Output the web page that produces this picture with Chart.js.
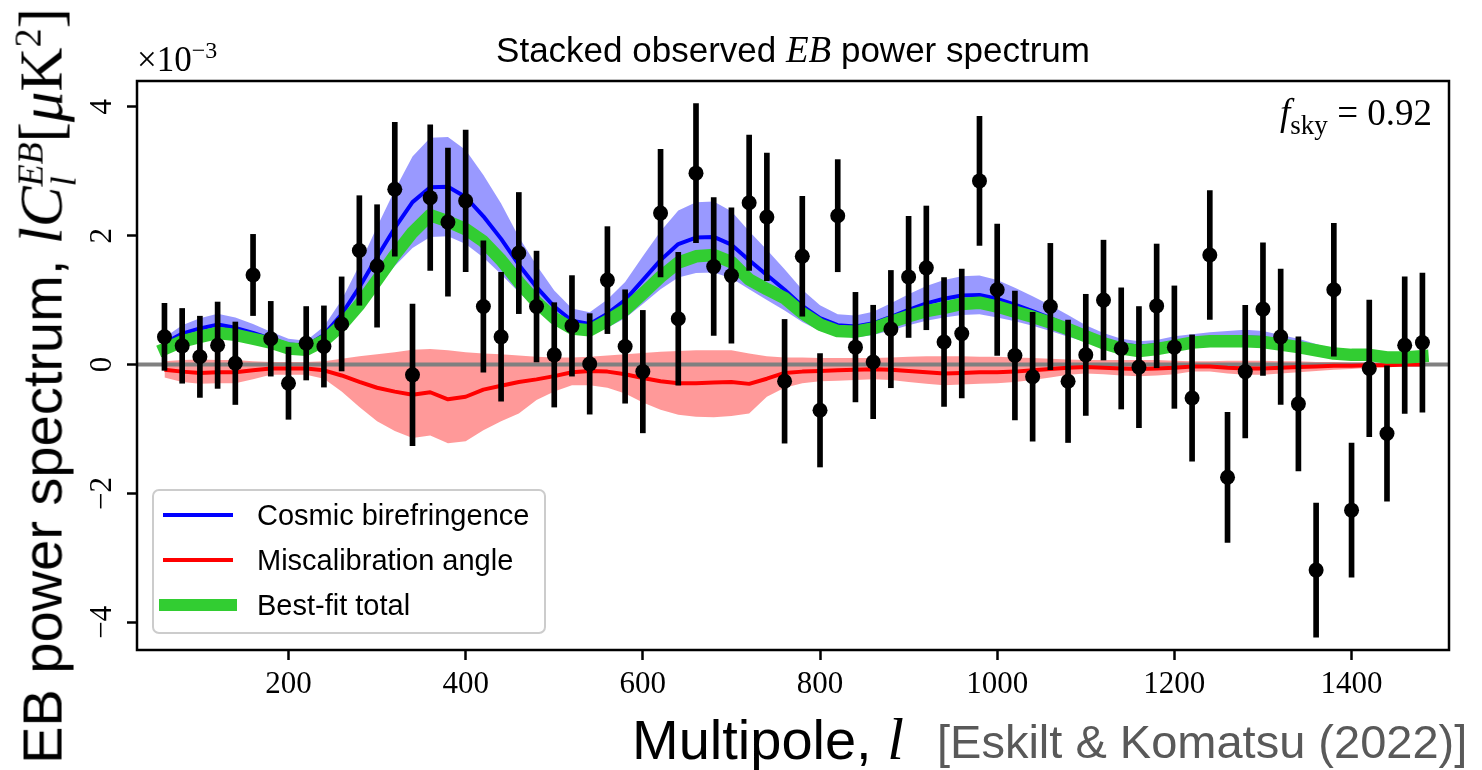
<!DOCTYPE html>
<html>
<head>
<meta charset="utf-8">
<script src="https://cdn.jsdelivr.net/npm/chart.js@4.4.1/dist/chart.umd.min.js"></script>
<style>
  html, body { margin: 0; padding: 0; background: #ffffff; }
  #wrap { position: relative; width: 1482px; height: 770px; overflow: hidden; background: #fff; }
  #c { position: absolute; left: 0; top: 0; }
  .txt { position: absolute; white-space: nowrap; line-height: 1; color: #000; }
  .sans { font-family: "Liberation Sans", Arial, sans-serif; }
  .serif { font-family: "Liberation Serif", "Times New Roman", serif; }
  .mi { font-family: "Liberation Serif", serif; font-style: italic; }
  #legend { position: absolute; left: 152px; top: 489px; width: 394px; height: 145px;
            border: 2.5px solid #cccccc; border-radius: 7px; background: rgba(255,255,255,0.8);
            box-sizing: border-box; }
  .lg-row { position: absolute; left: 0; height: 40px; width: 100%; }
  .lg-line { position: absolute; }
  .lg-text { position: absolute; left: 103px; font-family: "Liberation Sans", Arial, sans-serif;
             font-size: 29px; line-height: 40px; top: 0; color: #000; }
  .ss { display: inline-flex; flex-direction: column; vertical-align: middle; line-height: 0.9; }
</style>
</head>
<body>
<div id="wrap">
  <canvas id="c" width="1482" height="770"></canvas>

  <div class="txt sans" id="title" style="left:793px; top:31px; font-size:35px; transform:translateX(-50%);">
    Stacked observed <span class="mi" style="font-size:37px;">EB</span> power spectrum
  </div>

  <div class="txt serif" style="left:137px; top:42px; font-size:35px;">×10<span style="font-size:24px; position:relative; top:-13px;">−3</span></div>

  <div class="txt serif" style="right:50px; top:94px; font-size:37px;">
    <span class="mi">f</span><span style="font-size:27px; position:relative; top:9px;">sky</span> = 0.92
  </div>

  <div class="txt sans" style="left:632px; top:709px; font-size:56px;">
    Multipole, <span class="mi" style="font-size:60px;">l</span>
  </div>
  <div class="txt sans" style="left:937px; top:718px; font-size:47px; color:#595959;">
    [Eskilt &amp; Komatsu (2022)]
  </div>

  <div class="txt sans" id="ytitle" style="left:44px; top:386px; font-size:56px; transform:translate(-50%,-50%) rotate(-90deg);">
    EB power spectrum, <span class="mi" style="font-size:61px;">lC</span><span class="ss mi" style="font-size:36px;"><span>EB</span><span>l</span></span><span class="serif" style="font-size:61px;">[<span class="mi">μ</span>K<sup style="font-size:38px;">2</sup>]</span>
  </div>

  <div id="legend"></div>
</div>

<script>
// ---------------- data (values in units of 1e-3 muK^2) ----------------
const ells = [60,80,100,120,140,160,180,200,220,240,260,280,300,320,340,360,380,400,420,440,
  460,480,500,520,540,560,580,600,620,640,660,680,700,720,740,760,780,800,820,840,
  860,880,900,920,940,960,980,1000,1020,1040,1060,1080,1100,1120,1140,1160,1180,1200,1220,1240,
  1260,1280,1300,1320,1340,1360,1380,1400,1420,1440,1460,1480];

const obsValues = [0.43,0.29,0.12,0.30,0.02,1.39,0.40,-0.29,0.33,0.28,0.63,1.77,1.53,2.72,-0.16,2.59,2.21,2.54,0.90,0.43,
  1.73,0.90,0.15,0.60,0.01,1.31,0.28,-0.11,2.35,0.71,2.97,1.52,1.38,2.51,2.29,-0.26,1.68,-0.71,2.31,0.27,
  0.04,0.55,1.36,1.50,0.35,0.48,2.85,1.16,0.14,-0.19,0.90,-0.26,0.15,1.00,0.25,-0.04,0.91,0.27,-0.52,1.70,
  -1.75,-0.11,0.86,0.43,-0.61,-3.19,1.16,-2.26,-0.06,-1.07,0.30,0.34];

const obsErrors = [0.52,0.58,0.63,0.67,0.64,0.63,0.58,0.56,0.57,0.63,0.73,0.85,0.95,1.04,1.10,1.13,1.15,1.10,1.02,1.00,
  0.94,0.86,0.81,0.78,0.78,0.83,0.88,0.95,0.99,1.03,1.08,1.07,1.05,1.05,0.99,0.96,0.93,0.88,0.87,0.85,
  0.88,0.91,0.94,0.96,1.00,1.00,1.00,1.02,1.00,1.00,0.98,0.95,0.94,0.93,0.94,0.94,0.96,0.95,0.98,1.00,
  1.01,1.03,1.03,1.05,1.04,1.04,1.03,1.04,1.06,1.05,1.06,1.08];

const birefringence = [0.33,0.48,0.56,0.62,0.57,0.49,0.40,0.31,0.29,0.46,0.78,1.20,1.67,2.12,2.52,2.75,2.76,2.60,2.30,1.95,
  1.55,1.20,0.90,0.68,0.63,0.79,1.00,1.31,1.62,1.87,1.97,1.98,1.86,1.62,1.39,1.16,0.91,0.72,0.61,0.59,
  0.64,0.74,0.85,0.95,1.02,1.07,1.08,1.02,0.93,0.83,0.72,0.60,0.48,0.38,0.31,0.28,0.30,0.34,0.37,0.39,
  0.41,0.42,0.41,0.36,0.31,0.25,0.19,0.17,0.16,0.12,0.11,0.13];
const birefringenceHi = [0.42,0.61,0.72,0.79,0.73,0.63,0.51,0.40,0.37,0.59,1.00,1.54,2.14,2.71,3.23,3.52,3.53,3.33,2.94,2.50,
  1.98,1.54,1.15,0.87,0.81,1.01,1.28,1.68,2.07,2.39,2.52,2.53,2.38,2.07,1.78,1.48,1.16,0.92,0.78,0.76,
  0.82,0.95,1.09,1.22,1.31,1.37,1.38,1.31,1.19,1.06,0.92,0.77,0.61,0.49,0.40,0.36,0.38,0.44,0.47,0.50,
  0.52,0.54,0.52,0.46,0.40,0.32,0.24,0.22,0.20,0.15,0.14,0.17];
const birefringenceLo = [0.24,0.35,0.40,0.45,0.41,0.35,0.29,0.22,0.21,0.33,0.56,0.86,1.20,1.53,1.81,1.98,1.99,1.87,1.66,1.40,
  1.12,0.86,0.65,0.49,0.45,0.57,0.72,0.94,1.17,1.35,1.42,1.43,1.34,1.17,1.00,0.84,0.66,0.52,0.44,0.42,
  0.46,0.53,0.61,0.68,0.73,0.77,0.78,0.73,0.67,0.60,0.52,0.43,0.35,0.27,0.22,0.20,0.22,0.24,0.27,0.28,
  0.30,0.30,0.30,0.26,0.22,0.18,0.14,0.12,0.12,0.09,0.08,0.09];

const miscal = [-0.08,-0.11,-0.13,-0.12,-0.12,-0.09,-0.06,-0.06,-0.06,-0.09,-0.17,-0.27,-0.36,-0.42,-0.47,-0.43,-0.54,-0.50,-0.39,-0.33,
  -0.27,-0.23,-0.18,-0.12,-0.10,-0.11,-0.15,-0.21,-0.26,-0.29,-0.29,-0.28,-0.27,-0.30,-0.22,-0.13,-0.11,-0.10,-0.09,-0.08,
  -0.075,-0.08,-0.10,-0.12,-0.14,-0.13,-0.12,-0.12,-0.11,-0.09,-0.07,-0.05,-0.04,-0.05,-0.06,-0.07,-0.06,-0.05,-0.03,-0.03,
  -0.05,-0.06,-0.06,-0.05,-0.04,-0.03,-0.02,-0.02,-0.01,-0.01,0.00,0.00];
const miscalHi = [0.05,0.07,0.08,0.07,0.07,0.05,0.04,0.04,0.04,0.05,0.09,0.13,0.16,0.19,0.23,0.24,0.22,0.19,0.17,0.16,
  0.14,0.12,0.11,0.11,0.12,0.14,0.16,0.18,0.20,0.21,0.22,0.22,0.22,0.17,0.13,0.11,0.11,0.10,0.10,0.10,
  0.10,0.11,0.12,0.13,0.13,0.13,0.12,0.12,0.11,0.10,0.09,0.08,0.07,0.07,0.07,0.07,0.07,0.06,0.05,0.05,
  0.06,0.06,0.06,0.05,0.05,0.04,0.04,0.03,0.03,0.02,0.02,0.02];
const miscalLo = [-0.20,-0.27,-0.30,-0.29,-0.29,-0.23,-0.16,-0.16,-0.16,-0.22,-0.42,-0.66,-0.88,-1.03,-1.14,-1.10,-1.22,-1.19,-1.02,-0.88,
  -0.76,-0.55,-0.42,-0.32,-0.32,-0.36,-0.45,-0.59,-0.70,-0.78,-0.81,-0.82,-0.80,-0.76,-0.50,-0.36,-0.29,-0.26,-0.25,-0.24,
  -0.23,-0.24,-0.27,-0.30,-0.32,-0.31,-0.30,-0.29,-0.27,-0.24,-0.20,-0.16,-0.14,-0.15,-0.17,-0.18,-0.17,-0.15,-0.11,-0.11,
  -0.14,-0.16,-0.16,-0.14,-0.12,-0.10,-0.08,-0.07,-0.05,-0.04,-0.03,-0.03];

const bestFit = [0.24,0.36,0.43,0.49,0.46,0.40,0.34,0.25,0.23,0.37,0.61,0.93,1.31,1.70,2.05,2.32,2.22,2.10,1.91,1.62,
  1.28,0.97,0.72,0.56,0.53,0.68,0.85,1.10,1.36,1.58,1.68,1.70,1.59,1.32,1.17,1.03,0.80,0.62,0.52,0.51,
  0.56,0.66,0.75,0.83,0.88,0.94,0.96,0.90,0.82,0.74,0.65,0.55,0.44,0.33,0.25,0.21,0.24,0.29,0.34,0.36,
  0.36,0.36,0.35,0.31,0.27,0.22,0.17,0.15,0.15,0.11,0.11,0.13];

const xLimits = [29, 1510];
const yLimits = [-4.43, 4.40];
const xTickValues = [200, 400, 600, 800, 1000, 1200, 1400];
const yTickValues = [-4, -2, 0, 2, 4];
const seriesLabels = ['Cosmic birefringence', 'Miscalibration angle', 'Best-fit total'];

// ---------------- build datasets ----------------
const pts = (ys) => ells.map((l, i) => ({x: l, y: ys[i]}));
const fmtTick = (v) => (v < 0 ? '\u2212' + Math.abs(v) : String(v));

const lineBase = {type: 'line', pointRadius: 0, tension: 0, fill: false, borderJoinStyle: 'round'};

const datasets = [
  {type: 'scatter', label: 'data', data: pts(obsValues), pointRadius: 7.5, pointHoverRadius: 7.5,
   backgroundColor: '#000', borderColor: '#000', borderWidth: 0, order: 0},
  {type: 'bar', label: 'errors', data: ells.map((l, i) => ({x: l, y: [obsValues[i] - obsErrors[i], obsValues[i] + obsErrors[i]]})),
   backgroundColor: '#000', borderWidth: 0, barThickness: 5, borderSkipped: false, order: 1},
  Object.assign({}, lineBase, {label: seriesLabels[2], data: pts(bestFit), borderColor: '#32cd32', borderWidth: 12.5,
   borderCapStyle: 'square', order: 2}),
  Object.assign({}, lineBase, {label: seriesLabels[0], data: pts(birefringence), borderColor: '#0000ff', borderWidth: 4, order: 3}),
  Object.assign({}, lineBase, {label: seriesLabels[1], data: pts(miscal), borderColor: '#ff0000', borderWidth: 4, order: 4}),
  Object.assign({}, lineBase, {label: 'zero', data: [{x: xLimits[0], y: 0}, {x: xLimits[1], y: 0}], borderColor: '#808080',
   borderWidth: 4, order: 5}),
  Object.assign({}, lineBase, {label: 'cbLo', data: pts(birefringenceLo), borderWidth: 0, borderColor: 'rgba(0,0,0,0)', order: 6}),
  Object.assign({}, lineBase, {label: 'cbHi', data: pts(birefringenceHi), borderWidth: 0, borderColor: 'rgba(0,0,0,0)',
   fill: 6, backgroundColor: 'rgba(0,0,255,0.4)', order: 7}),
  Object.assign({}, lineBase, {label: 'miLo', data: pts(miscalLo), borderWidth: 0, borderColor: 'rgba(0,0,0,0)', order: 8}),
  Object.assign({}, lineBase, {label: 'miHi', data: pts(miscalHi), borderWidth: 0, borderColor: 'rgba(0,0,0,0)',
   fill: 8, backgroundColor: 'rgba(255,0,0,0.4)', order: 9}),
];

// ---------------- plugins ----------------
const framePlugin = {
  id: 'frame',
  afterDraw(chart) {
    const {ctx, chartArea: a} = chart;
    ctx.save();
    ctx.strokeStyle = '#000';
    ctx.lineWidth = 2.5;
    ctx.strokeRect(a.left, a.top, a.right - a.left, a.bottom - a.top);
    // rotated y tick labels
    const s = chart.scales.y;
    ctx.fillStyle = '#000';
    ctx.font = '31px "Liberation Serif", serif';
    ctx.textAlign = 'center';
    ctx.textBaseline = 'middle';
    s.ticks.forEach(t => {
      const y = s.getPixelForValue(t.value);
      ctx.save();
      ctx.translate(103, y);
      ctx.rotate(-Math.PI / 2);
      ctx.fillText(t.label, 0, 0);
      ctx.restore();
    });
    ctx.restore();
  }
};

const chart = new Chart(document.getElementById('c'), {
  type: 'scatter',
  data: {datasets},
  options: {
    responsive: false,
    animation: false,
    devicePixelRatio: 1,
    layout: {padding: {top: 81, right: 33, left: 0, bottom: 0}},
    plugins: {legend: {display: false}, tooltip: {enabled: false}, title: {display: false}},
    scales: {
      x: {
        type: 'linear', min: xLimits[0], max: xLimits[1], offset: false,
        afterBuildTicks: (sc) => { sc.ticks = xTickValues.map(v => ({value: v})); },
        afterFit: (sc) => { sc.height = 120; },
        grid: {drawOnChartArea: false, drawTicks: true, tickLength: 10, tickWidth: 2.5, tickColor: '#000', offset: false},
        border: {display: false},
        ticks: {color: '#000', font: {family: '"Liberation Serif", serif', size: 31}, padding: 6,
                maxRotation: 0, minRotation: 0, autoSkip: false, callback: (v) => String(v)}
      },
      y: {
        type: 'linear', min: yLimits[0], max: yLimits[1],
        afterBuildTicks: (sc) => { sc.ticks = yTickValues.map(v => ({value: v})); },
        afterFit: (sc) => { sc.width = 137; },
        grid: {drawOnChartArea: false, drawTicks: true, tickLength: 10, tickWidth: 2.5, tickColor: '#000'},
        border: {display: false},
        ticks: {display: false, callback: (v) => fmtTick(v)}
      }
    }
  },
  plugins: [framePlugin]
});

// ---------------- HTML legend from datasets ----------------
const legend = document.getElementById('legend');
const legendRows = [
  {ds: chart.data.datasets[3], len: 70, left: 9},
  {ds: chart.data.datasets[4], len: 70, left: 9},
  {ds: chart.data.datasets[2], len: 78, left: 5},
];
legendRows.forEach((r, i) => {
  const row = document.createElement('div');
  row.className = 'lg-row';
  row.style.top = (4 + i * 45) + 'px';
  const ln = document.createElement('div');
  ln.className = 'lg-line';
  const w = r.ds.borderWidth;
  ln.style.left = r.left + 'px';
  ln.style.width = r.len + 'px';
  ln.style.height = w + 'px';
  ln.style.top = (20 - w / 2) + 'px';
  ln.style.background = r.ds.borderColor;
  const tx = document.createElement('div');
  tx.className = 'lg-text';
  tx.textContent = r.ds.label;
  row.appendChild(ln);
  row.appendChild(tx);
  legend.appendChild(row);
});
</script>
</body>
</html>
